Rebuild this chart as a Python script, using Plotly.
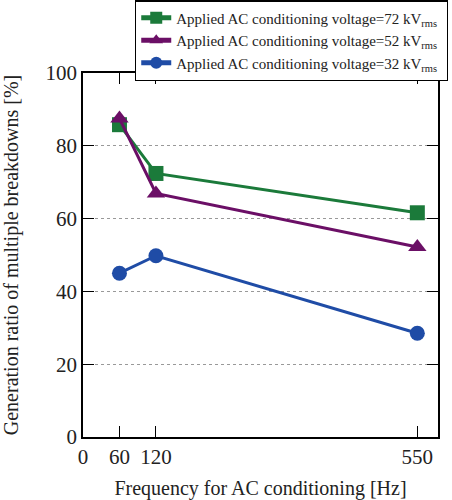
import plotly.graph_objects as go

freq = [60, 120, 550]
v72 = [85.8, 72.4, 61.6]
v52 = [87.5, 66.9, 52.2]
v32 = [45.0, 49.8, 28.5]
x_ticks = [0, 60, 120, 550]
y_ticks = [0, 20, 40, 60, 80, 100]
names = ["Applied AC conditioning voltage=72 kV<sub>rms</sub>\u00a0",
         "Applied AC conditioning voltage=52 kV<sub>rms</sub>\u00a0",
         "Applied AC conditioning voltage=32 kV<sub>rms</sub>\u00a0"]

FONT = "'Liberation Serif', 'Times New Roman', Times, serif"
fig = go.Figure()
series = [
    (v72, names[0], "#1b7a3a", "square", 15),
    (v52, names[1], "#6b0f66", "triangle-up", 16),
    (v32, names[2], "#1f4ca6", "circle", 15),
]
for vals, nm, col, sym, sz in series:
    fig.add_trace(go.Scatter(x=freq, y=vals, name=nm, mode="lines+markers",
                             line=dict(color=col, width=3),
                             marker=dict(symbol=sym, size=sz, color=col)))

axis_common = dict(showline=True, linecolor="black", linewidth=1.5, mirror="ticks",
                   ticks="inside", ticklen=11, tickwidth=1.3, tickcolor="black",
                   tickfont=dict(family=FONT, size=21, color="#222"), zeroline=False)
fig.update_xaxes(range=[0, 584], tickvals=x_ticks, showgrid=False,
                 title=dict(text="Frequency for AC conditioning [Hz]",
                            font=dict(family=FONT, size=20, color="#222"), standoff=15),
                 **axis_common)
fig.update_yaxes(range=[0, 100], tickvals=y_ticks, showgrid=True, gridcolor="#999",
                 griddash="dot", gridwidth=1,
                 title=dict(text="Generation ratio of multiple breakdowns [%]",
                            font=dict(family=FONT, size=20, color="#222"), standoff=22),
                 **axis_common)
fig.update_layout(width=452, height=500, plot_bgcolor="white", paper_bgcolor="white",
                  margin=dict(l=83, r=14, t=73, b=63, autoexpand=False),
                  font=dict(family=FONT, color="#222"),
                  legend=dict(x=1.028, xanchor="right", y=1.2, yanchor="top",
                              bgcolor="white", bordercolor="black", borderwidth=1.3,
                              font=dict(family=FONT, size=15, color="#222"),
                              itemsizing="constant",
                              tracegroupgap=0, itemwidth=30))
fig.write_html("out.html", post_script="document.body.style.margin='0';",
               config={"displayModeBar": False})
